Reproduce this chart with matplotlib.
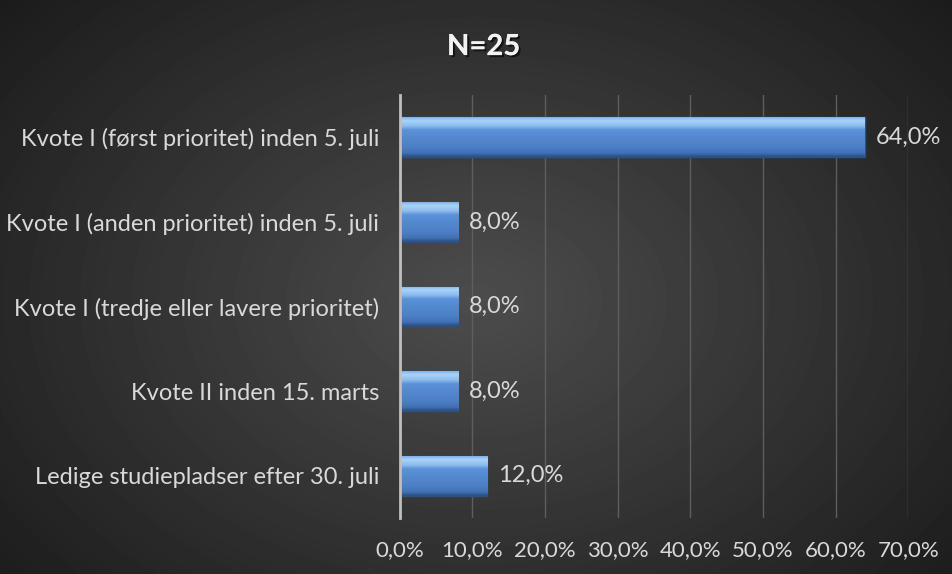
import numpy as np
import matplotlib.pyplot as plt
import matplotlib.patheffects as pe
from matplotlib.colors import LinearSegmentedColormap

categories = [
    "Kvote I (først prioritet) inden 5. juli",
    "Kvote I (anden prioritet) inden 5. juli",
    "Kvote I (tredje eller lavere prioritet)",
    "Kvote II inden 15. marts",
    "Ledige studiepladser efter 30. juli",
]
values = [64.0, 8.0, 8.0, 8.0, 12.0]
ticks = [0, 10, 20, 30, 40, 50, 60, 70]
title = "N=25"

plt.rcParams['font.family'] = ['Lato', 'DejaVu Sans']
txt = '#d9d9d9'
fs = 17

fig = plt.figure(figsize=(9.52, 5.74), dpi=100)

# radial gradient background
bg = fig.add_axes([0, 0, 1, 1])
yy, xx = np.mgrid[0:574, 0:952]
r = np.sqrt(((xx - 476) / 560.0) ** 2 + ((yy - 300) / 400.0) ** 2)
shade = np.clip(0.30 - 0.17 * r, 0.10, 0.30)
bg.imshow(shade, cmap='gray', vmin=0, vmax=1, aspect='auto', extent=[0, 1, 0, 1])
bg.axis('off')

ax = fig.add_axes([0.420, 0.0976, 0.534, 0.737])
ax.set_facecolor('none')
y = np.arange(len(categories))
h = 0.47

bars = ax.barh(y, values, height=h, color='#4a7ec4', edgecolor='#2c5282', linewidth=1.0, zorder=3)

# bevel look: vertical gradient clipped to each bar
bevel = LinearSegmentedColormap.from_list('bevel', [
    (0.0, '#7fb2ea'), (0.08, '#a9d3f8'), (0.22, '#8cbcef'), (0.32, '#5b91d8'),
    (0.75, '#4b7fc6'), (0.90, '#4272b6'), (1.0, '#2b4f82')])
grad = np.linspace(0, 1, 100).reshape(-1, 1)
for b in bars:
    x0, y0 = b.get_x(), b.get_y()
    im = ax.imshow(grad, cmap=bevel, aspect='auto', zorder=4, interpolation='bilinear',
                   extent=[x0, x0 + b.get_width(), y0 + b.get_height(), y0], origin='upper')
    im.set_clip_path(b)

for yi, v in zip(y, values):
    ax.text(v + 1.5, yi, f"{v:.1f}%".replace('.', ','), va='center', ha='left',
            color=txt, fontsize=fs)

ax.set_xlim(0, 70)
ax.set_ylim(len(categories) - 0.5, -0.5)
ax.set_xticks(ticks)
ax.set_xticklabels([f"{t:.1f}%".replace('.', ',') for t in ticks], color=txt, fontsize=16)
ax.set_yticks(y)
ax.set_yticklabels(categories, color=txt, fontsize=fs)
ax.tick_params(axis='y', length=0, pad=15)
ax.tick_params(axis='x', length=0, pad=16)
ax.xaxis.grid(True, color='#5e5e5e', linewidth=1, zorder=0)
ax.set_axisbelow(True)
for s in ['top', 'right', 'bottom']:
    ax.spines[s].set_visible(False)
ax.spines['left'].set_color('#bfbfbf')
ax.spines['left'].set_linewidth(2)
ax.spines['left'].set_zorder(5)

fig.text(0.508, 0.918, title, ha='center', va='center', color='#f2f2f2', fontsize=21,
         fontweight='bold',
         path_effects=[pe.withSimplePatchShadow(offset=(1.5, -1.5), shadow_rgbFace='black', alpha=0.6), pe.Normal()])

fig.savefig('out.png', dpi=100)
